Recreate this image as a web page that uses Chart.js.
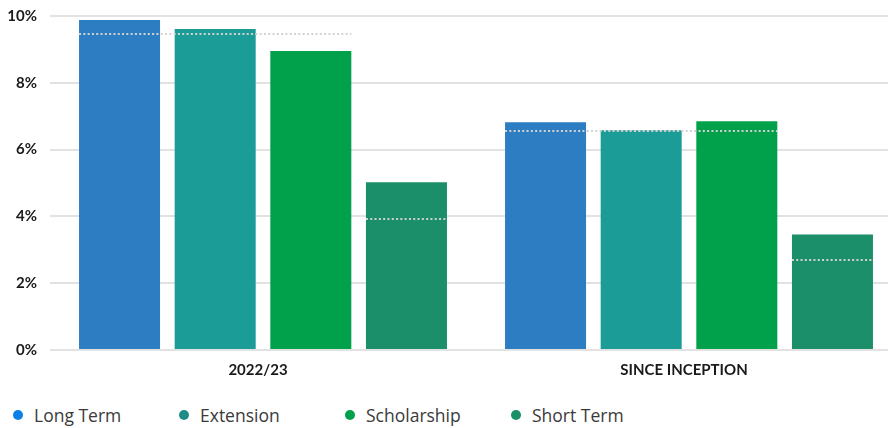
<!DOCTYPE html>
<html>
<head>
<meta charset="utf-8">
<script src="https://cdn.jsdelivr.net/npm/chart.js@4"></script>
<style>
  html, body { margin: 0; padding: 0; background: #fff; overflow: hidden; width: 888px; height: 428px; }
  #wrap { position: absolute; left: 0; top: 0; width: 902px; height: 390px; }
  #legend { position: absolute; left: 13px; top: 403px; display: flex; font-family: "Open Sans", sans-serif; font-size: 17.5px; color: #3a3a3a; }
  .item { width: 166px; display: flex; align-items: center; white-space: nowrap; }
  .dot { width: 10px; height: 10px; border-radius: 50%; margin-right: 11px; }
</style>
</head>
<body>
<div id="wrap"><canvas id="chart"></canvas></div>
<div id="legend"></div>
<script>
const categories = ['2022/23', 'SINCE INCEPTION'];
const seriesNames = ['Long Term', 'Extension', 'Scholarship', 'Short Term'];
const longTerm = [9.88, 6.82];
const extension = [9.61, 6.58];
const scholarship = [8.95, 6.85];
const shortTerm = [5.02, 3.46];
// dotted benchmark lines: one across the first three bars, one on short term
const benchmark = [9.46, 6.55];
const shortBenchmark = [3.91, 2.70];
const yTicks = [0, 2, 4, 6, 8, 10];

const barColors = ['#2c7dc1', '#1b9c97', '#00a14a', '#1a8f69'];
const dotColors = ['#0c80e4', '#1e8c89', '#00a14a', '#18906a'];

const fontFamily = 'Lato, sans-serif';

// Draw dotted benchmark lines over the bars
const benchmarkPlugin = {
    id: 'benchmarks',
    afterDatasetsDraw(chart) {
        const ctx = chart.ctx;
        const y = chart.scales.y;
        const m0 = chart.getDatasetMeta(0).data;
        const m2 = chart.getDatasetMeta(2).data;
        const m3 = chart.getDatasetMeta(3).data;
        ctx.save();
        ctx.strokeStyle = '#d2d2d2';
        ctx.lineWidth = 2;
        ctx.setLineDash([2, 2.3]);
        categories.forEach((c, i) => {
            let yp = Math.round(y.getPixelForValue(benchmark[i])) ;
            ctx.beginPath();
            ctx.moveTo(m0[i].x - m0[i].width / 2, yp);
            ctx.lineTo(m2[i].x + m2[i].width / 2, yp);
            ctx.stroke();
            yp = Math.round(y.getPixelForValue(shortBenchmark[i]));
            ctx.beginPath();
            ctx.moveTo(m3[i].x - m3[i].width / 2, yp);
            ctx.lineTo(m3[i].x + m3[i].width / 2, yp);
            ctx.stroke();
        });
        ctx.restore();
    }
};

const ctx = document.getElementById('chart').getContext('2d');
const chart = new Chart(ctx, {
    type: 'bar',
    data: {
        labels: categories,
        datasets: [longTerm, extension, scholarship, shortTerm].map((d, i) => ({
            label: seriesNames[i],
            data: d,
            backgroundColor: barColors[i],
            borderWidth: 0,
            barPercentage: 0.847,
            categoryPercentage: 0.898
        }))
    },
    options: {
        responsive: true,
        maintainAspectRatio: false,
        animation: false,
        layout: { padding: { top: 16, left: 0, right: 0, bottom: 0 } },
        plugins: {
            legend: { display: false },
            tooltip: { enabled: false }
        },
        scales: {
            x: {
                grid: { display: false, drawTicks: false },
                border: { display: false },
                ticks: {
                    color: '#1a1a1a',
                    font: { family: fontFamily, size: 15, weight: 'bold' },
                    padding: 11,
                    labelOffset: -5
                },
                afterFit(scale) { scale.height = 40; }
            },
            y: {
                min: 0,
                max: 10,
                afterBuildTicks(scale) { scale.ticks = yTicks.map(v => ({ value: v })); },
                grid: { color: '#e2e2e2', lineWidth: 2, drawTicks: false },
                border: { display: false },
                ticks: {
                    color: '#1a1a1a',
                    font: { family: fontFamily, size: 15, weight: 'bold' },
                    padding: 13,
                    callback: v => v + '%'
                },
                afterFit(scale) {
                    scale.width = 50;
                    scale.paddingTop = 0;
                    scale.paddingBottom = 0;
                }
            }
        }
    },
    plugins: [benchmarkPlugin]
});

// HTML legend with fixed-width columns
const legend = document.getElementById('legend');
seriesNames.forEach((name, i) => {
    const item = document.createElement('div');
    item.className = 'item';
    item.innerHTML = `<span class="dot" style="background:${dotColors[i]}"></span><span>${name}</span>`;
    legend.appendChild(item);
});
</script>
</body>
</html>
